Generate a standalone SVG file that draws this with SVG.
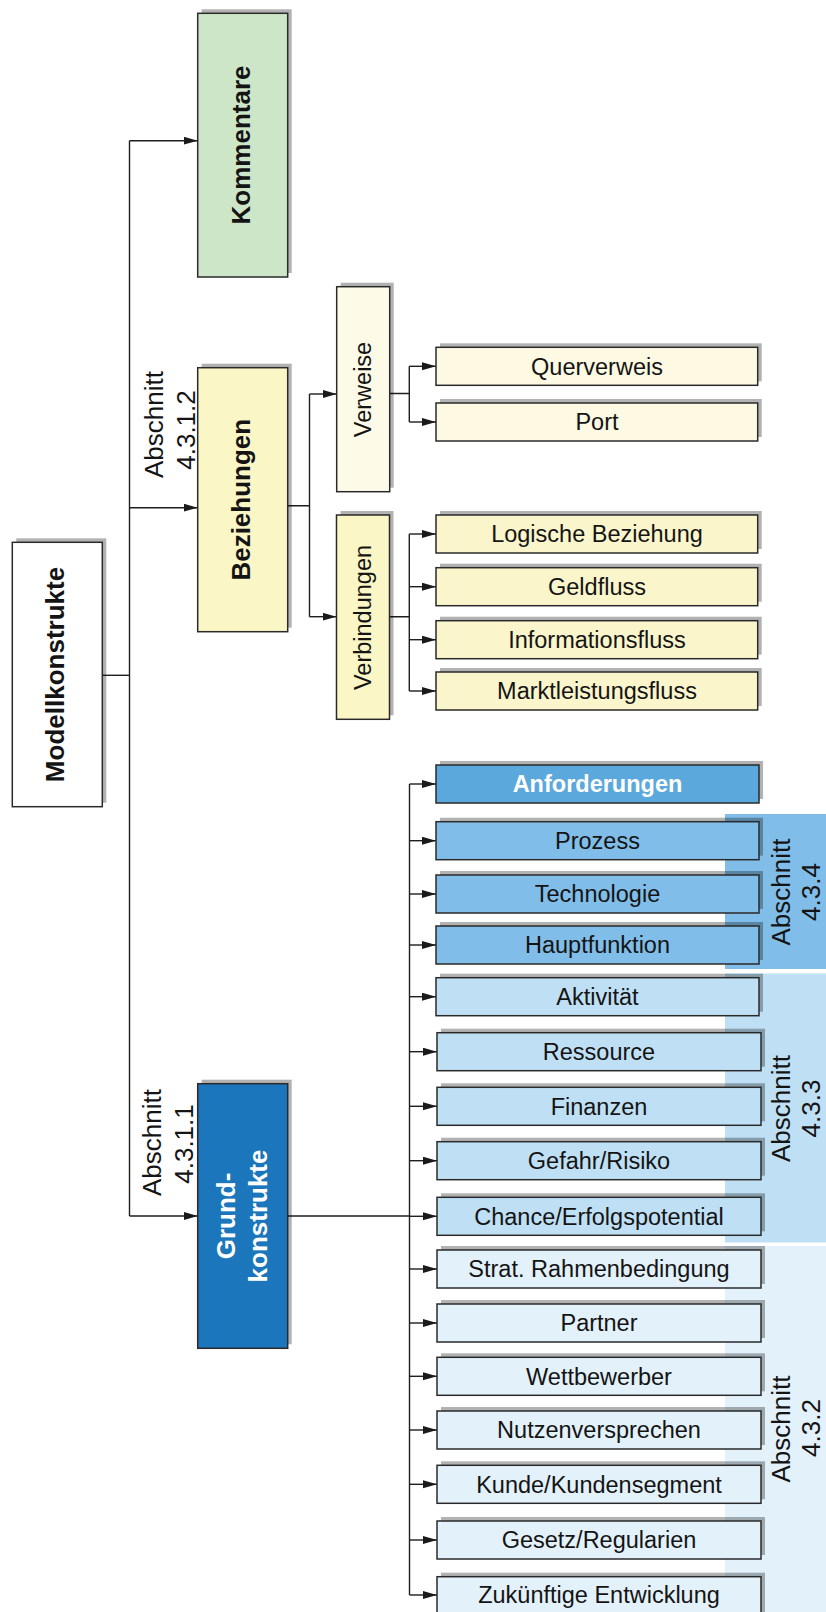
<svg xmlns="http://www.w3.org/2000/svg" width="826" height="1612" viewBox="0 0 826 1612">
<defs>
<marker id="ah" markerUnits="userSpaceOnUse" markerWidth="15" markerHeight="9" refX="14" refY="4" orient="auto"><path d="M0,0 L14,4 L0,8 Z" fill="#1a1a1a"/></marker>
</defs>
<style>
text{font-family:"Liberation Sans",Arial,Helvetica,sans-serif;fill:#141414}
.r{font-size:23.5px;text-anchor:middle}
.big{font-size:26px;text-anchor:middle}
.b{font-weight:bold}
.w{fill:#fff}
.bx{stroke:#2a2a2a;stroke-width:1.5}
.sh{fill:#000;fill-opacity:.3}
.ln{fill:none;stroke:#1e1e1e;stroke-width:1.4}
.ar{marker-end:url(#ah)}
.white{fill:#fff}
.green{fill:#cde6c7}
.yel{fill:#fbf6c6}
.cream{fill:#fdfbe8}
.ycream{fill:#fdf9e3}
.ylow{fill:#fbf5cc}
.dblue{fill:#1b76bb}
.anf{fill:#5ba9dc}
.mblue{fill:#80bde8}
.lblue{fill:#bfe0f4}
.vlblue{fill:#e3f1fb}
</style>

<g id="sections">
<rect x="725" y="814" width="101" height="155" class="mblue"/>
<rect x="725" y="973.5" width="101" height="269" class="lblue"/>
<rect x="725" y="1246" width="101" height="366" class="vlblue"/>
<text class="big" transform="translate(790,892) rotate(-90)">Abschnitt</text>
<text class="big" transform="translate(820,892) rotate(-90)">4.3.4</text>
<text class="big" transform="translate(790,1108.5) rotate(-90)">Abschnitt</text>
<text class="big" transform="translate(820,1108.5) rotate(-90)">4.3.3</text>
<text class="big" transform="translate(790,1429) rotate(-90)">Abschnitt</text>
<text class="big" transform="translate(820,1428) rotate(-90)">4.3.2</text>
</g>

<g id="connectors">
<path class="ln" d="M102.3,675.3 H129.5"/>
<path class="ln" d="M129.5,140.7 V1216"/>
<path class="ln ar" d="M129.5,140.7 H197.7"/>
<path class="ln ar" d="M129.5,507.7 H197.7"/>
<path class="ln ar" d="M129.5,1216 H197.7"/>
<path class="ln" d="M287.7,505.7 H309.5 M309.5,394 V616.7"/>
<path class="ln ar" d="M309.5,394 H336.7"/>
<path class="ln ar" d="M309.5,616.7 H336.5"/>
<path class="ln" d="M389.7,393.5 H409.3 M409.3,366.3 V422"/>
<path class="ln ar" d="M409.3,366.3 H436"/>
<path class="ln ar" d="M409.3,422 H436"/>
<path class="ln" d="M389,616.7 H409.3 M409.3,534 V691"/>
<path class="ln ar" d="M409.3,534 H436"/>
<path class="ln ar" d="M409.3,586.7 H436"/>
<path class="ln ar" d="M409.3,639.7 H436"/>
<path class="ln ar" d="M409.3,691 H436"/>
<path class="ln" d="M287.7,1216 H409.5 M409.5,784 V1595"/>
<path class="ln ar" d="M409.5,784 H436"/>
<path class="ln ar" d="M409.5,840.7 H436"/>
<path class="ln ar" d="M409.5,894 H436"/>
<path class="ln ar" d="M409.5,945 H436"/>
<path class="ln ar" d="M409.5,996.7 H436"/>
<path class="ln ar" d="M409.5,1051.7 H437"/>
<path class="ln ar" d="M409.5,1106.3 H437"/>
<path class="ln ar" d="M409.5,1160.7 H437"/>
<path class="ln ar" d="M409.5,1216.3 H437"/>
<path class="ln ar" d="M409.5,1269 H437"/>
<path class="ln ar" d="M409.5,1323 H437"/>
<path class="ln ar" d="M409.5,1376.3 H437"/>
<path class="ln ar" d="M409.5,1430 H437"/>
<path class="ln ar" d="M409.5,1484.3 H437"/>
<path class="ln ar" d="M409.5,1540 H437"/>
<path class="ln ar" d="M409.5,1595 H437"/>
</g>

<g id="n-modellkonstrukte">
<rect class="sh" x="16.3" y="538.3" width="90" height="264.4"/>
<rect class="bx white" x="12.3" y="542.3" width="90" height="264.4"/>
<text class="big b" transform="translate(64,674.5) rotate(-90)">Modellkonstrukte</text>
</g>
<g id="n-kommentare">
<rect class="sh" x="201.7" y="9.3" width="90" height="263.7"/>
<rect class="bx green" x="197.7" y="13.3" width="90" height="263.7"/>
<text class="big b" transform="translate(249.5,145) rotate(-90)">Kommentare</text>
</g>
<g id="n-beziehungen">
<rect class="sh" x="201.7" y="363.7" width="90" height="264"/>
<rect class="bx yel" x="197.7" y="367.7" width="90" height="264"/>
<text class="big b" transform="translate(249.5,499.7) rotate(-90)">Beziehungen</text>
</g>
<g id="l-abschnitt-4312">
<text class="big" transform="translate(163,424.5) rotate(-90)">Abschnitt</text>
<text class="big" transform="translate(195,430) rotate(-90)">4.3.1.2</text>
</g>
<g id="n-grundkonstrukte">
<rect class="sh" x="201.7" y="1079.7" width="90" height="264.6"/>
<rect class="bx dblue" x="197.7" y="1083.7" width="90" height="264.6"/>
<text class="big b w" transform="translate(235,1216) rotate(-90)">Grund-</text>
<text class="big b w" transform="translate(266.5,1216) rotate(-90)">konstrukte</text>
</g>
<g id="l-abschnitt-4311">
<text class="big" transform="translate(160.5,1142.5) rotate(-90)">Abschnitt</text>
<text class="big" transform="translate(192.5,1144) rotate(-90)">4.3.1.1</text>
</g>
<g id="n-verweise">
<rect class="sh" x="340.7" y="282.7" width="53" height="205"/>
<rect class="bx cream" x="336.7" y="286.7" width="53" height="205"/>
<text class="r" transform="translate(370.5,389.5) rotate(-90)">Verweise</text>
</g>
<g id="n-verbindungen">
<rect class="sh" x="340.5" y="511" width="53" height="204.3"/>
<rect class="bx yel" x="336.5" y="515" width="53" height="204.3"/>
<text class="r" transform="translate(370.5,617.5) rotate(-90)">Verbindungen</text>
</g>

<g id="n-querverweis"><rect class="sh" x="440" y="343.3" width="321.7" height="38"/><rect class="bx ycream" x="436" y="347.3" width="321.7" height="38"/><text class="r" x="597" y="374.6">Querverweis</text></g>
<g id="n-port"><rect class="sh" x="440" y="399" width="321.7" height="38"/><rect class="bx ycream" x="436" y="403" width="321.7" height="38"/><text class="r" x="597" y="430.3">Port</text></g>
<g id="n-logische-beziehung"><rect class="sh" x="440" y="511" width="321.7" height="38"/><rect class="bx ylow" x="436" y="515" width="321.7" height="38"/><text class="r" x="597" y="542.3">Logische Beziehung</text></g>
<g id="n-geldfluss"><rect class="sh" x="440" y="563.7" width="321.7" height="38"/><rect class="bx ylow" x="436" y="567.7" width="321.7" height="38"/><text class="r" x="597" y="595">Geldfluss</text></g>
<g id="n-informationsfluss"><rect class="sh" x="440" y="616.7" width="321.7" height="38"/><rect class="bx ylow" x="436" y="620.7" width="321.7" height="38"/><text class="r" x="597" y="648">Informationsfluss</text></g>
<g id="n-marktleistungsfluss"><rect class="sh" x="440" y="668" width="321.7" height="38"/><rect class="bx ylow" x="436" y="672" width="321.7" height="38"/><text class="r" x="597" y="699.3">Marktleistungsfluss</text></g>

<g id="n-anforderungen"><rect class="sh" x="440" y="761" width="323" height="38"/><rect class="bx anf" x="436" y="765" width="323" height="38"/><text class="r b w" x="597.5" y="792.3">Anforderungen</text></g>
<g id="n-prozess"><rect class="sh" x="440" y="817.7" width="323" height="38"/><rect class="bx mblue" x="436" y="821.7" width="323" height="38"/><text class="r" x="597.5" y="849">Prozess</text></g>
<g id="n-technologie"><rect class="sh" x="440" y="871" width="323" height="38"/><rect class="bx mblue" x="436" y="875" width="323" height="38"/><text class="r" x="597.5" y="902.3">Technologie</text></g>
<g id="n-hauptfunktion"><rect class="sh" x="440" y="922" width="323" height="38"/><rect class="bx mblue" x="436" y="926" width="323" height="38"/><text class="r" x="597.5" y="953.3">Hauptfunktion</text></g>
<g id="n-aktivitaet"><rect class="sh" x="440" y="973.7" width="323" height="38"/><rect class="bx lblue" x="436" y="977.7" width="323" height="38"/><text class="r" x="597.5" y="1005">Aktivität</text></g>
<g id="n-ressource"><rect class="sh" x="441" y="1028.7" width="324" height="38"/><rect class="bx lblue" x="437" y="1032.7" width="324" height="38"/><text class="r" x="599" y="1060">Ressource</text></g>
<g id="n-finanzen"><rect class="sh" x="441" y="1083.3" width="324" height="38"/><rect class="bx lblue" x="437" y="1087.3" width="324" height="38"/><text class="r" x="599" y="1114.6">Finanzen</text></g>
<g id="n-gefahr-risiko"><rect class="sh" x="441" y="1137.7" width="324" height="38"/><rect class="bx lblue" x="437" y="1141.7" width="324" height="38"/><text class="r" x="599" y="1169">Gefahr/Risiko</text></g>
<g id="n-chance"><rect class="sh" x="441" y="1193.3" width="324" height="38"/><rect class="bx lblue" x="437" y="1197.3" width="324" height="38"/><text class="r" x="599" y="1224.6">Chance/Erfolgspotential</text></g>
<g id="n-strat"><rect class="sh" x="441" y="1246" width="324" height="38"/><rect class="bx vlblue" x="437" y="1250" width="324" height="38"/><text class="r" x="599" y="1277.3">Strat. Rahmenbedingung</text></g>
<g id="n-partner"><rect class="sh" x="441" y="1300" width="324" height="38"/><rect class="bx vlblue" x="437" y="1304" width="324" height="38"/><text class="r" x="599" y="1331.3">Partner</text></g>
<g id="n-wettbewerber"><rect class="sh" x="441" y="1353.3" width="324" height="38"/><rect class="bx vlblue" x="437" y="1357.3" width="324" height="38"/><text class="r" x="599" y="1384.6">Wettbewerber</text></g>
<g id="n-nutzenversprechen"><rect class="sh" x="441" y="1407" width="324" height="38"/><rect class="bx vlblue" x="437" y="1411" width="324" height="38"/><text class="r" x="599" y="1438.3">Nutzenversprechen</text></g>
<g id="n-kunde"><rect class="sh" x="441" y="1461.3" width="324" height="38"/><rect class="bx vlblue" x="437" y="1465.3" width="324" height="38"/><text class="r" x="599" y="1492.6">Kunde/Kundensegment</text></g>
<g id="n-gesetz"><rect class="sh" x="441" y="1517" width="324" height="38"/><rect class="bx vlblue" x="437" y="1521" width="324" height="38"/><text class="r" x="599" y="1548.3">Gesetz/Regularien</text></g>
<g id="n-zukuenftige-entwicklung"><rect class="sh" x="441" y="1572.7" width="324" height="42"/><rect class="bx vlblue" x="437" y="1576.7" width="324" height="42"/><text class="r" x="599" y="1603.3">Zukünftige Entwicklung</text></g>
</svg>
